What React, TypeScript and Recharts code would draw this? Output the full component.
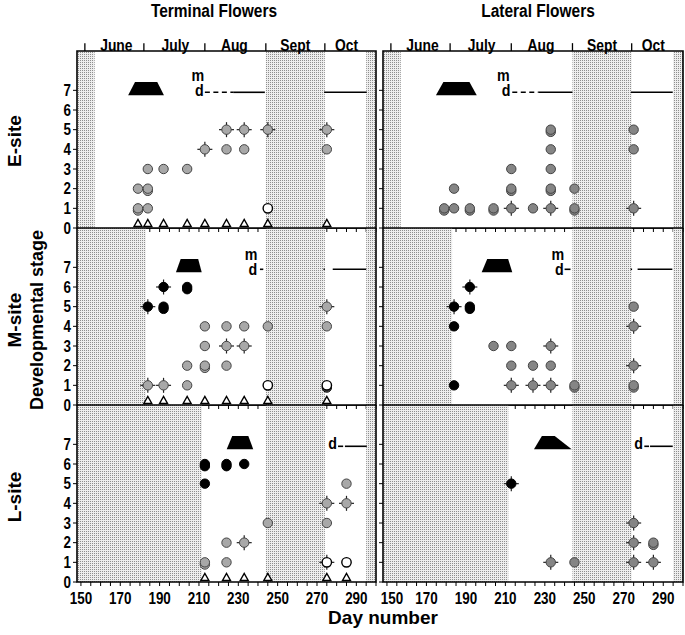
import React from 'react';
import { ComposedChart, Scatter, XAxis, YAxis, ReferenceArea, ReferenceLine, ReferenceDot } from 'recharts';

const FONT = '"Liberation Sans", Arial, sans-serif';
const SQUEEZE = 0.84;

type Pt = [number, number, string];
type Seg = [number, number, boolean];
type Mark = [number, number, string];

const dayDomain: [number, number] = [148, 300];
const stageDomain: [number, number] = [0, 9];
const stageTicks = [0, 1, 2, 3, 4, 5, 6, 7];
const dayTicks = [150, 155, 160, 165, 170, 175, 180, 185, 190, 195, 200, 205, 210, 215, 220, 225, 230, 235, 240, 245, 250, 255, 260, 265, 270, 275, 280, 285, 290, 295, 300];
const dayLabels = [150, 170, 190, 210, 230, 250, 270, 290];
const monthBounds = [152, 182, 213, 244, 274];
const monthMids = [168, 198, 228, 259, 285];
const monthNames = ['June', 'July', 'Aug', 'Sept', 'Oct'];

// shaded (no sampling) periods per site
const shadeE: [number, number][] = [[148, 157], [244, 274], [295, 300]];
const shadeM: [number, number][] = [[148, 183], [244, 274], [295, 300]];
const shadeL: [number, number][] = [[148, 211.5], [244, 274], [295, 300]];

// sampling days (triangles)
const sampleE = [179, 184, 192, 204, 213, 224, 233, 245, 275];
const sampleM = [184, 192, 204, 213, 224, 233, 245, 275];
const sampleL = [213, 224, 233, 245, 275, 285];

// points: [day, stage, marker]  g=grey, b=black, o=open; c=crosshair, d=doubled
const termE: Pt[] = [
  [179, 1, 'gd'], [184, 1, 'g'], [179, 2, 'g'], [184, 2, 'gd'], [184, 3, 'g'], [192, 3, 'g'], [204, 3, 'g'],
  [213, 4, 'gc'], [224, 4, 'g'], [233, 4, 'g'], [224, 5, 'gc'], [233, 5, 'gc'], [245, 5, 'gc'], [275, 5, 'gc'],
  [275, 4, 'g'], [245, 1, 'o'],
];
const latE: Pt[] = [
  [179, 1, 'gd'], [184, 1, 'g'], [192, 1, 'gd'], [204, 1, 'gd'], [213, 1, 'gc'], [224, 1, 'g'], [233, 1, 'gc'],
  [245, 1, 'gd'], [275, 1, 'gc'], [184, 2, 'g'], [213, 2, 'gd'], [233, 2, 'gd'], [245, 2, 'g'], [213, 3, 'g'],
  [233, 3, 'g'], [233, 4, 'g'], [233, 5, 'gd'], [275, 5, 'g'], [275, 4, 'g'],
];
const termM: Pt[] = [
  [184, 5, 'bc'], [192, 6, 'bc'], [192, 5, 'bd'], [204, 6, 'bd'],
  [184, 1, 'gc'], [192, 1, 'gc'], [204, 1, 'g'], [204, 2, 'g'], [213, 2, 'gd'], [224, 2, 'g'], [213, 3, 'g'],
  [224, 3, 'gc'], [233, 3, 'gc'], [213, 4, 'g'], [224, 4, 'g'], [233, 4, 'g'], [245, 4, 'g'], [275, 4, 'g'],
  [275, 5, 'gc'], [245, 1, 'o'], [275, 1, 'od'],
];
const latM: Pt[] = [
  [184, 5, 'bc'], [192, 6, 'bc'], [192, 5, 'bd'], [184, 4, 'b'], [184, 1, 'b'],
  [204, 3, 'g'], [213, 3, 'g'], [233, 3, 'gc'], [213, 2, 'g'], [224, 2, 'g'], [233, 2, 'g'], [213, 1, 'gc'],
  [224, 1, 'gc'], [233, 1, 'gc'], [245, 1, 'gd'], [275, 1, 'gd'], [275, 2, 'gc'], [275, 4, 'gc'], [275, 5, 'g'],
];
const termL: Pt[] = [
  [213, 6, 'bd'], [224, 6, 'bd'], [233, 6, 'b'], [213, 5, 'b'],
  [213, 1, 'gd'], [224, 1, 'g'], [224, 2, 'g'], [233, 2, 'gc'], [245, 3, 'g'], [275, 3, 'g'], [275, 4, 'gc'],
  [285, 4, 'gc'], [285, 5, 'g'], [275, 1, 'oc'], [285, 1, 'o'],
];
const latL: Pt[] = [
  [213, 5, 'bc'], [233, 1, 'gc'], [245, 1, 'g'], [275, 1, 'gc'], [285, 1, 'gc'], [275, 2, 'gc'], [285, 2, 'gd'],
  [275, 3, 'gc'],
];

// flowering trapezoids: [bottomStart, bottomEnd, topStart, topEnd]
const trapTE = [174, 192.2, 177.5, 188.8];
const trapLE = [174.8, 195.5, 178.6, 191.8];
const trapTM = [198.3, 211.4, 200.7, 209.6];
const trapLM = [198, 213.5, 200.8, 211.4];
const trapTL = [224.1, 237.6, 226.9, 235.1];
const trapLL = [224.5, 243.6, 228.5, 235];
const trapLow = 6.75;
const trapHigh = 7.42;

// m / d lines: [start, end, dashed]
const segTE: Seg[] = [[213, 227.4, true], [227.4, 243.5, false], [273.6, 295.3, false]];
const segLE: Seg[] = [[213.5, 226.7, true], [226.7, 244, false], [273.6, 294.8, false]];
const segTM: Seg[] = [[241, 242.7, false], [273.3, 274, false], [278, 295, false]];
const segLM: Seg[] = [[240, 243, false], [273.5, 274.2, false], [277, 294.6, false]];
const segTL: Seg[] = [[280.7, 283.3, false], [284.2, 295.3, false]];
const segLL: Seg[] = [[280.4, 282.8, false], [283.3, 294.8, false]];
const lineStage = 6.9;

const markTE: Mark[] = [[209.4, 7.8, 'm'], [210.2, 7.03, 'd']];
const markLE: Mark[] = [[209, 7.8, 'm'], [210.4, 7.03, 'd']];
const markTM: Mark[] = [[236.5, 7.7, 'm'], [237.4, 6.93, 'd']];
const markLM: Mark[] = [[236.6, 7.7, 'm'], [237.4, 6.93, 'd']];
const markTL: Mark[] = [[278, 7.05, 'd']];
const markLL: Mark[] = [[277.5, 7.05, 'd']];

function SText({ x, y, size, anchor = 'middle', dy = '0', children }: any) {
  return (
    <text
      x={0}
      y={0}
      dy={dy}
      transform={`translate(${x},${y}) scale(${SQUEEZE},1)`}
      textAnchor={anchor}
      fontFamily={FONT}
      fontWeight="bold"
      fontSize={size}
      fill="#000"
    >
      {children}
    </text>
  );
}

function Marker(props: any) {
  const { cx, cy, payload, grey } = props;
  if (cx == null || cy == null) return null;
  const k: string = payload.k;
  const r = 4.7;
  if (k === 't') {
    return (
      <polygon points={`${cx - 4},${cy - 1.5} ${cx + 4},${cy - 1.5} ${cx},${cy - 8.5}`} fill="#fff" stroke="#000" strokeWidth={1.4} />
    );
  }
  const base = k[0];
  const fill = base === 'g' ? grey : base === 'b' ? '#000' : '#fff';
  const stroke = base === 'o' ? '#000' : base === 'b' ? '#000' : '#444';
  const cross = k.includes('c');
  const dbl = k.includes('d');
  return (
    <g>
      {cross && (
        <g stroke="#222" strokeWidth={1.2}>
          <line x1={cx - 7.5} y1={cy} x2={cx + 7.5} y2={cy} />
          <line x1={cx} y1={cy - 7.5} x2={cx} y2={cy + 7.5} />
        </g>
      )}
      {dbl && <circle cx={cx} cy={cy + 2.2} r={r} fill={base === 'o' ? '#555' : fill} stroke={stroke} strokeWidth={1} />}
      <circle cx={cx} cy={cy} r={r} fill={fill} stroke={stroke} strokeWidth={base === 'o' ? 1.4 : 1} />
    </g>
  );
}

function trapShape(trap: number[]) {
  return (p: any) => {
    const { x, y, width, height } = p;
    const span = trap[1] - trap[0];
    const tx0 = x + ((trap[2] - trap[0]) / span) * width;
    const tx1 = x + ((trap[3] - trap[0]) / span) * width;
    return <polygon points={`${x},${y + height} ${tx0},${y} ${tx1},${y} ${x + width},${y + height}`} fill="#000" />;
  };
}

type PanelProps = {
  side: 'L' | 'R';
  row: number;
  pts: Pt[];
  tri: number[];
  trap: number[];
  segs: Seg[];
  marks: Mark[];
  shade: [number, number][];
};

function Panel({ side, row, pts, tri, trap, segs, marks, shade }: PanelProps) {
  const isLeft = side === 'L';
  const plotTop = [51, 228, 405][row];
  const plotH = 177;
  const axisH = row === 2 ? 36 : 10;
  const marginTop = row === 0 ? 51 : 0;
  const divTop = plotTop - marginTop;
  const left = isLeft ? 0 : 376;
  const width = isLeft ? 380 : 309;
  const yW = isLeft ? 77 : 7;
  const mRight = isLeft ? 4 : 2;
  const height = marginTop + plotH + axisH;
  const grey = isLeft ? '#a8a8a8' : '#858585';
  const ptData = pts.map(([x, y, k]) => ({ x, y, k }));
  const triData = isLeft ? tri.map((x) => ({ x, y: 0, k: 't' })) : [];

  const xTick = (p: any) => {
    const v = p.payload.value;
    if (row !== 2 || !dayLabels.includes(v)) return <g />;
    const shift = !isLeft && v === 150 ? 5 : 0;
    return <SText x={p.x + shift} y={p.y} size={16} dy="0.71em">{v}</SText>;
  };
  const yTick = (p: any) => {
    if (!isLeft) return <g />;
    return <SText x={p.x} y={p.y} size={16} anchor="end" dy="0.355em">{p.payload.value}</SText>;
  };

  return (
    <div style={{ position: 'absolute', left, top: divTop, width, height }}>
      <ComposedChart width={width} height={height} margin={{ top: marginTop, right: mRight, bottom: 0, left: 0 }}>
        <XAxis
          dataKey="x"
          type="number"
          domain={dayDomain}
          allowDataOverflow
          ticks={dayTicks}
          interval={0}
          height={axisH}
          tickSize={4}
          tickMargin={7}
          axisLine={false}
          tickLine={{ stroke: '#000' }}
          tick={xTick}
        />
        <YAxis
          dataKey="y"
          type="number"
          domain={stageDomain}
          allowDataOverflow
          ticks={stageTicks}
          interval={0}
          width={yW}
          tickSize={4}
          tickMargin={2}
          axisLine={false}
          tickLine={{ stroke: '#000' }}
          tick={yTick}
        />
        {segs.map(([a, b, dashed], i) => (
          <ReferenceLine
            key={'s' + i}
            segment={[{ x: a, y: lineStage }, { x: b, y: lineStage }]}
            stroke="#000"
            strokeWidth={1.6}
            strokeDasharray={dashed ? '5 3.5' : undefined}
            ifOverflow="visible"
          />
        ))}
        {shade.map(([a, b], i) => (
          <ReferenceArea key={'h' + i} x1={a} x2={b} y1={0} y2={9} fill="url(#dots)" fillOpacity={1} stroke="none" ifOverflow="visible" />
        ))}
        <ReferenceArea
          x1={trap[0]}
          x2={trap[1]}
          y1={trapLow}
          y2={trapHigh}
          shape={trapShape(trap)}
          ifOverflow="visible"
        />
        {marks.map(([d, s, t], i) => (
          <ReferenceDot
            key={'m' + i}
            x={d}
            y={s}
            r={0}
            ifOverflow="visible"
            shape={(p: any) => <SText x={p.cx} y={p.cy} size={17} dy="0.36em">{t}</SText>}
          />
        ))}
        {row === 0 &&
          monthBounds.map((b, i) => (
            <ReferenceLine
              key={'mb' + i}
              segment={[{ x: b, y: 9 }, { x: b, y: 9.4 }]}
              stroke="#000"
              strokeWidth={1.3}
              ifOverflow="visible"
            />
          ))}
        {row === 0 &&
          monthMids.map((m, i) => (
            <ReferenceDot
              key={'ml' + i}
              x={m}
              y={9}
              r={0}
              ifOverflow="visible"
              shape={(p: any) => <SText x={p.cx} y={p.cy - 6} size={16.5} dy="0.36em">{monthNames[i]}</SText>}
            />
          ))}
        <ReferenceArea x1={148} x2={300} y1={0} y2={9} fill="none" stroke="#000" strokeWidth={1.6} ifOverflow="visible" />
        {isLeft && (
          <Scatter data={triData} isAnimationActive={false} shape={(p: any) => <Marker {...p} grey={grey} />} />
        )}
        <Scatter data={ptData} isAnimationActive={false} shape={(p: any) => <Marker {...p} grey={grey} />} />
      </ComposedChart>
    </div>
  );
}

const textStyle: React.CSSProperties = {
  position: 'absolute',
  fontFamily: FONT,
  fontWeight: 'bold',
  color: '#000',
  whiteSpace: 'nowrap',
  transform: 'translate(-50%, -50%)',
  lineHeight: 1,
};
const hStyle: React.CSSProperties = { ...textStyle, transform: 'translate(-50%, -50%) scaleX(0.86)' };
const vStyle: React.CSSProperties = { ...textStyle, transform: 'translate(-50%, -50%) rotate(-90deg)' };

export default function App() {
  return (
    <div style={{ position: 'absolute', left: 0, top: 0, width: 685, height: 635, background: '#fff', overflow: 'hidden' }}>
      <svg width="0" height="0" style={{ position: 'absolute' }}>
        <defs>
          <pattern id="dots" width="2" height="2" patternUnits="userSpaceOnUse">
            <rect width="2" height="2" fill="#eeeeee" />
            <rect width="1" height="1" fill="#8e8e8e" />
          </pattern>
        </defs>
      </svg>
      <Panel side="L" row={0} pts={termE} tri={sampleE} trap={trapTE} segs={segTE} marks={markTE} shade={shadeE} />
      <Panel side="R" row={0} pts={latE} tri={sampleE} trap={trapLE} segs={segLE} marks={markLE} shade={shadeE} />
      <Panel side="L" row={1} pts={termM} tri={sampleM} trap={trapTM} segs={segTM} marks={markTM} shade={shadeM} />
      <Panel side="R" row={1} pts={latM} tri={sampleM} trap={trapLM} segs={segLM} marks={markLM} shade={shadeM} />
      <Panel side="L" row={2} pts={termL} tri={sampleL} trap={trapTL} segs={segTL} marks={markTL} shade={shadeL} />
      <Panel side="R" row={2} pts={latL} tri={sampleL} trap={trapLL} segs={segLL} marks={markLL} shade={shadeL} />
      <div style={{ ...hStyle, left: 214, top: 11, fontSize: 18 }}>Terminal Flowers</div>
      <div style={{ ...hStyle, left: 538, top: 11, fontSize: 18 }}>Lateral Flowers</div>
      <div style={{ ...textStyle, left: 383, top: 617, fontSize: 19 }}>Day number</div>
      <div style={{ ...vStyle, left: 14, top: 141, fontSize: 19 }}>E-site</div>
      <div style={{ ...vStyle, left: 14, top: 320, fontSize: 19 }}>M-site</div>
      <div style={{ ...vStyle, left: 14, top: 497, fontSize: 19 }}>L-site</div>
      <div style={{ ...vStyle, left: 37, top: 320, fontSize: 18 }}>Developmental stage</div>
    </div>
  );
}
